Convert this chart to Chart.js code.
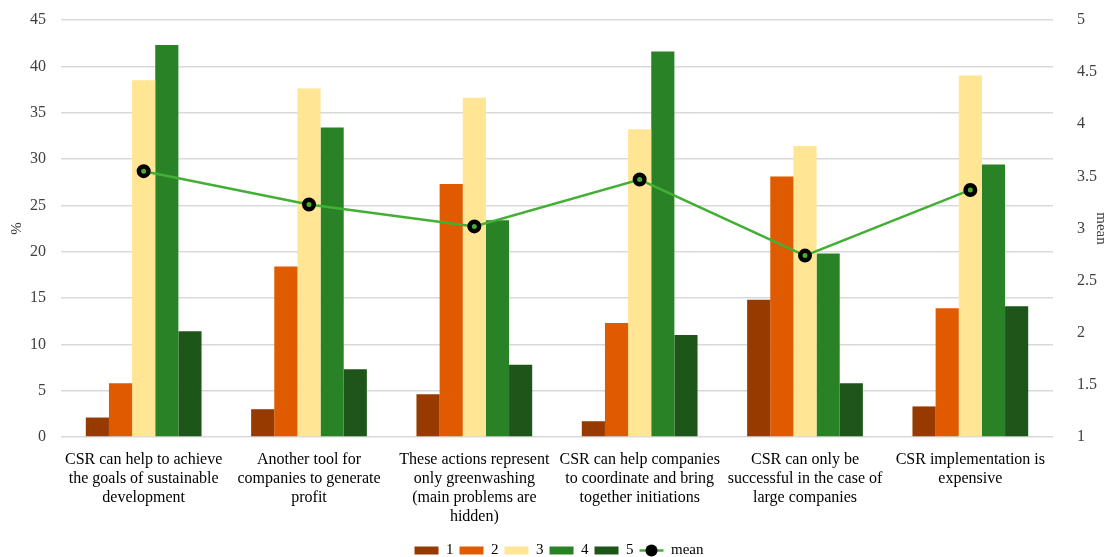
<!DOCTYPE html>
<html>
<head>
<meta charset="utf-8">
<script src="https://cdn.jsdelivr.net/npm/chart.js@4.4.1/dist/chart.umd.min.js"></script>
<style>
html,body{margin:0;padding:0;background:#fff;}
#wrap{width:1110px;height:557px;position:relative;}
</style>
</head>
<body>
<div id="wrap"><canvas id="c"></canvas></div>
<script>
const categories = [
  ["CSR can help to achieve", "the goals of sustainable", "development"],
  ["Another tool for", "companies to generate", "profit"],
  ["These actions represent", "only greenwashing", "(main problems are", "hidden)"],
  ["CSR can help companies", "to coordinate and bring", "together initiations"],
  ["CSR can only be", "successful in the case of", "large companies"],
  ["CSR implementation is", "expensive"]
];
const seriesNames = ["1", "2", "3", "4", "5"];
const s1 = [2.1, 3.0, 4.6, 1.7, 14.8, 3.3];
const s2 = [5.8, 18.4, 27.3, 12.3, 28.1, 13.9];
const s3 = [38.5, 37.6, 36.6, 33.2, 31.4, 39.0];
const s4 = [42.3, 33.4, 23.4, 41.6, 19.8, 29.4];
const s5 = [11.4, 7.3, 7.8, 11.0, 5.8, 14.1];
const meanValues = [3.55, 3.23, 3.02, 3.47, 2.74, 3.37];
const leftTicks = [0, 5, 10, 15, 20, 25, 30, 35, 40, 45];
const rightTicks = [1, 1.5, 2, 2.5, 3, 3.5, 4, 4.5, 5];

const colors = ["#963A00", "#E05A00", "#FFE594", "#2A8227", "#1E5519"];
const lineColor = "#43B035";
const FONT = "'Liberation Serif', 'DejaVu Serif', serif";
const txt = "#404040";

const barSets = [s1, s2, s3, s4, s5].map((d, i) => ({
  type: 'bar', label: seriesNames[i], data: d, backgroundColor: colors[i],
  yAxisID: 'y', order: 1, categoryPercentage: 0.7, barPercentage: 1.0
}));

const meanLegendPlugin = {
  id: 'meanLegend',
  afterDraw(chart) {
    const lg = chart.legend;
    if (!lg || !lg.legendHitBoxes) return;
    const idx = lg.legendItems.findIndex(it => it.text === 'mean');
    if (idx < 0) return;
    const hb = lg.legendHitBoxes[idx];
    const ctx = chart.ctx;
    const bw = lg.options.labels.boxWidth;
    const cy = hb.top + hb.height / 2;
    ctx.save();
    ctx.strokeStyle = lineColor; ctx.lineWidth = 2.5;
    ctx.beginPath(); ctx.moveTo(hb.left, cy); ctx.lineTo(hb.left + bw, cy); ctx.stroke();
    ctx.beginPath(); ctx.arc(hb.left + bw / 2, cy, 6, 0, Math.PI * 2);
    ctx.fillStyle = '#000'; ctx.fill();
    ctx.restore();
  }
};

function noVertPad(scale) { scale.paddingTop = 0; scale.paddingBottom = 0; }

new Chart(document.getElementById('c'), {
  data: {
    labels: categories,
    datasets: [...barSets, {
      type: 'line', label: 'mean', data: meanValues, yAxisID: 'y2', order: 0,
      borderColor: lineColor, borderWidth: 2.5, backgroundColor: lineColor,
      pointRadius: 4.75, pointHoverRadius: 4.75, pointBorderWidth: 4.5, pointBorderColor: '#000',
      pointBackgroundColor: lineColor, tension: 0
    }]
  },
  plugins: [meanLegendPlugin],
  options: {
    responsive: true, maintainAspectRatio: false, animation: false,
    layout: { padding: { left: 8, right: 0, top: 20, bottom: -11 } },
    plugins: {
      tooltip: { enabled: false },
      legend: {
        position: 'bottom',
        labels: {
          font: { family: FONT, size: 15 }, color: txt, boxWidth: 24, boxHeight: 8, padding: 6,
          generateLabels(chart) {
            return chart.data.datasets.map((ds, i) => ({
              text: ds.label,
              fillStyle: ds.type === 'line' ? 'rgba(0,0,0,0)' : ds.backgroundColor,
              strokeStyle: 'rgba(0,0,0,0)', lineWidth: 0, hidden: false, datasetIndex: i
            }));
          }
        }
      }
    },
    scales: {
      x: {
        grid: { display: true, drawOnChartArea: false, drawTicks: true, tickLength: 13, tickColor: 'rgba(0,0,0,0)' },
        border: { display: false },
        ticks: { font: { family: FONT, size: 16, lineHeight: '19px' }, color: '#000', maxRotation: 0, autoSkip: false, padding: 0 },
        afterFit(scale) { scale.paddingLeft = 0; scale.paddingRight = 0; scale.height += 11; }
      },
      y: {
        position: 'left', min: 0, max: 45,
        afterBuildTicks(ax) { ax.ticks = leftTicks.map(v => ({ value: v })); },
        grid: { color: '#d9d9d9', lineWidth: 1.5, drawTicks: false }, border: { display: false },
        ticks: { font: { family: FONT, size: 16 }, color: txt, padding: 15 },
        title: { display: true, text: '%', font: { family: FONT, size: 15 }, color: txt, padding: { top: 0, bottom: 4 } },
        afterFit(scale) { scale.width = 53; noVertPad(scale); }
      },
      y2: {
        position: 'right', min: 1, max: 5,
        afterBuildTicks(ax) { ax.ticks = rightTicks.map(v => ({ value: v })); },
        grid: { display: false, drawOnChartArea: false }, border: { display: false },
        ticks: { font: { family: FONT, size: 16 }, color: txt, padding: 16, callback: v => String(v) },
        title: { display: true, text: 'mean', font: { family: FONT, size: 15 }, color: txt, padding: { top: 0, bottom: 0 } },
        afterFit(scale) { scale.width = 57; noVertPad(scale); }
      }
    }
  }
});
</script>
</body>
</html>
